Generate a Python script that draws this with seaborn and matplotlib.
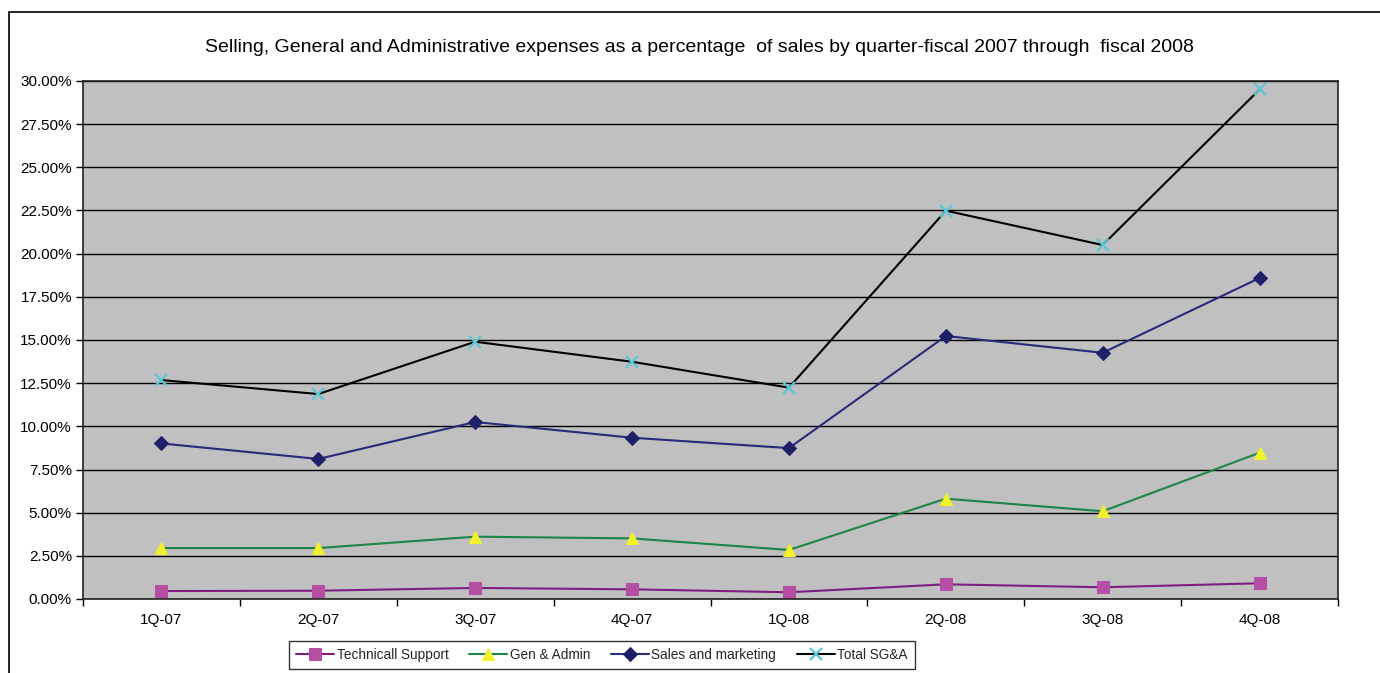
import matplotlib
matplotlib.use("Agg")
import matplotlib.pyplot as plt
from matplotlib.ticker import FuncFormatter, FixedLocator, NullFormatter
from matplotlib.patches import Rectangle
import seaborn as sns
import pandas as pd

quarters = ["1Q-07", "2Q-07", "3Q-07", "4Q-07", "1Q-08", "2Q-08", "3Q-08", "4Q-08"]
technical_support = [0.46, 0.48, 0.64, 0.56, 0.39, 0.85, 0.68, 0.91]
gen_admin = [2.95, 2.95, 3.61, 3.51, 2.84, 5.81, 5.08, 8.47]
sales_marketing = [9.01, 8.11, 10.25, 9.34, 8.74, 15.23, 14.26, 18.59]
total_sga = [12.68, 11.87, 14.90, 13.74, 12.24, 22.49, 20.50, 29.51]

series_names = ["Technicall Support", "Gen & Admin", "Sales and marketing", "Total SG&A"]
series_values = [technical_support, gen_admin, sales_marketing, total_sga]
y_ticks = [0, 2.5, 5, 7.5, 10, 12.5, 15, 17.5, 20, 22.5, 25, 27.5, 30]

styles = {
    "Technicall Support": dict(color="#7E1E82", marker="s", markerfacecolor="#B54FA6",
                               markeredgecolor="#B54FA6", markersize=8),
    "Gen & Admin": dict(color="#1E8447", marker="^", markerfacecolor="#F2F22A",
                        markeredgecolor="#F2F22A", markersize=9),
    "Sales and marketing": dict(color="#2A2A7C", marker="D", markerfacecolor="#20206A",
                                markeredgecolor="#20206A", markersize=7),
    "Total SG&A": dict(color="#000000", marker="x", markerfacecolor="none",
                       markeredgecolor="#5CC6D6", markersize=9, markeredgewidth=1.6),
}

frames = []
for name, vals in zip(series_names, series_values):
    frames.append(pd.DataFrame({"quarter": quarters, "value": vals, "series": name}))
df = pd.concat(frames, ignore_index=True)

sns.set_theme(style="white")
plt.rcParams["font.family"] = ["Liberation Sans", "DejaVu Sans"]

fig = plt.figure(figsize=(13.8, 6.73), dpi=100)
ax = fig.add_axes([83 / 1380, 1 - 599 / 673, (1338 - 83) / 1380, (599 - 81) / 673])
ax.set_facecolor("#C0C0C0")

# outer chart frame (top and left edges visible)
fig.patches.append(Rectangle((9 / 1380, -0.05), 1.2, 1 - 12 / 673 + 0.05,
                             transform=fig.transFigure, fill=False,
                             edgecolor="#000000", linewidth=1.2, zorder=0))

for name in series_names:
    sub = df[df["series"] == name]
    sns.lineplot(data=sub, x="quarter", y="value", ax=ax, sort=False,
                 linewidth=1.5, label=name, **styles[name])

ax.set_xlim(-0.5, len(quarters) - 0.5)
ax.set_ylim(0, 30)
ax.set_yticks(y_ticks)
ax.yaxis.set_major_formatter(FuncFormatter(lambda v, p: f"{v:.2f}%"))
ax.set_xticks(range(len(quarters)))
ax.set_xticklabels(quarters)
ax.xaxis.set_minor_locator(FixedLocator([i - 0.5 for i in range(len(quarters) + 1)]))
ax.xaxis.set_minor_formatter(NullFormatter())
ax.tick_params(axis="x", which="major", length=0, pad=10, labelsize=11, colors="#000000")
ax.tick_params(axis="x", which="minor", length=5, width=1, color="#000000", bottom=True)
ax.tick_params(axis="y", which="major", length=5, width=1, color="#000000",
               left=True, labelsize=11, pad=3, labelcolor="#000000")
ax.grid(axis="y", color="#000000", linewidth=1.0)
ax.set_axisbelow(True)
for s in ax.spines.values():
    s.set_color("#222222")
    s.set_linewidth(1.2)
ax.set_xlabel("")
ax.set_ylabel("")

fig.text(699.5 / 1380, 1 - 47 / 673, "Selling, General and Administrative expenses as a percentage  of sales by quarter-fiscal 2007 through  fiscal 2008",
         ha="center", va="center", fontsize=14, color="#000000")

leg = ax.legend(loc="center", bbox_to_anchor=(602 / 1380, 1 - 655 / 673),
                bbox_transform=fig.transFigure, ncol=4, fontsize=9.8,
                frameon=True, fancybox=False, handlelength=2.8, handletextpad=0.2,
                columnspacing=1.5, borderpad=0.5)
leg.get_frame().set_edgecolor("#000000")
leg.get_frame().set_linewidth(1.0)

fig.savefig("out.png", dpi=100, facecolor="white")
